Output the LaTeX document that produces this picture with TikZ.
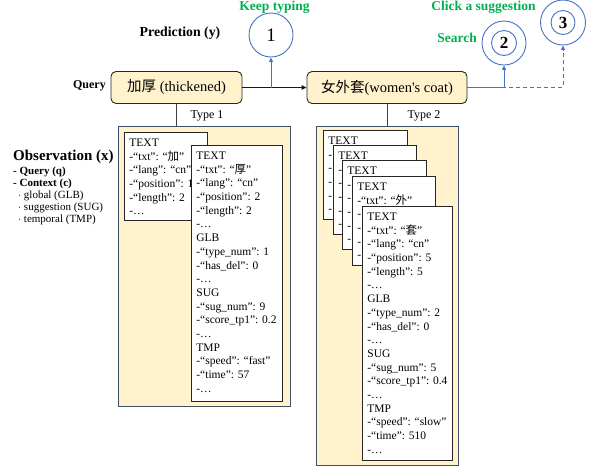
\documentclass[tikz,border=0pt]{standalone}
\usepackage{fontspec}
\setmainfont{Liberation Serif}
\newfontfamily\plainserif{Liberation Serif}
\newfontfamily\cjk{Noto Sans CJK SC}
\usetikzlibrary{arrows.meta}

\definecolor{boxfill}{HTML}{FFF2CC}
\definecolor{panelline}{HTML}{3E4F6A}
\definecolor{linkblue}{HTML}{4472C4}
\definecolor{actgreen}{HTML}{00B050}

\newcommand\fsz[2]{\fontsize{#1}{#2}\selectfont}
% fixed-size block of text lines, top aligned, fixed line pitch
\newcommand\cardlines[3]{\parbox[t][#2pt][t]{#1pt}{\raggedright\fsz{11.5}{13.7}%
  \lineskiplimit=-\maxdimen\lineskip=0pt #3}}

\begin{document}
\begin{tikzpicture}[x=1pt,y=-1pt,
  querybox/.style={draw=black!85, fill=boxfill, rounded corners=5pt, line width=0.9pt,
    minimum height=32, inner sep=0, font=\fsz{14.5}{16}},
  panel/.style={draw=panelline, fill=boxfill, line width=1.1pt, anchor=north west, inner sep=0},
  card/.style={draw=black!85, fill=white, line width=0.8pt, anchor=north west,
    inner xsep=5pt, inner ysep=6.5pt},
  ring/.style={circle, draw=linkblue, line width=0.9pt, inner sep=0},
  act/.style={text=actgreen, inner sep=0, font=\bfseries\fsz{13.5}{15}},
  mainlink/.style={draw=black!90, line width=1.1pt, -{Triangle[length=5pt,width=4.5pt]}},
  bluelink/.style={draw=linkblue, line width=0.9pt, -{Triangle[length=4.5pt,width=4pt]}},
  stem/.style={draw=black!75, line width=0.9pt},
  typelabel/.style={font=\fsz{12}{13}},
  obsline/.style={anchor=west, inner sep=0, font=\fsz{11}{12}},
]
\useasboundingbox (0,0) rectangle (593,472);

% ---- queries ----
\node[anchor=east, inner sep=0, font=\bfseries\fsz{12}{13}] (qlab) at (106,86) {Query};
\node[querybox, minimum width=131] (q1) at (176.5,87.5) {{\cjk 加厚} (thickened)};
\node[querybox, minimum width=160] (q2) at (387,87.5) {{\cjk 女外套}(women{\plainserif '}s coat)};

% ---- predictions ----
\node[font=\bfseries\fsz{13.8}{15}] (plab) at (180,33) {Prediction (y)};
\node[ring, minimum size=44] (k1) at (271,35) {\fsz{19}{19}1};
\node[act] (a1) at (274.5,7) {Keep typing};

\node[ring, minimum size=44] (k2) at (504,43) {};
\node[ring, minimum size=25, font=\bfseries\fsz{17}{17}] (k2i) at (k2.center) {2};
\node[act] (a2) at (457,38) {Search};

\node[ring, minimum size=45] (k3) at (563,22.5) {};
\node[ring, minimum size=24, font=\bfseries\fsz{17}{17}] (k3i) at (k3.center) {3};
\node[act] (a3) at (483.5,7) {Click a suggestion};

% ---- connectors ----
\draw[mainlink] (q1.east) -- (q2.west);
\coordinate (j1) at (k1.south |- q1.east);
\draw[bluelink] (j1) -- (k1.south);
\coordinate (j2) at (k2.south |- q2.east);
\coordinate (j3) at (k3.south |- q2.east);
\draw[bluelink] (q2.east) -- (j2) -- (k2.south);
\draw[bluelink, dash pattern=on 4pt off 3pt] (q2.east) -- (j3) -- (k3.south);

% ---- observation legend ----
\node[anchor=west, inner sep=0, font=\bfseries\fsz{15}{16}] (obs) at (13,157) {Observation (x)};
\node[obsline, font=\bfseries\fsz{11}{12}] (oq) at (13,172) {- Query (q)};
\node[obsline, font=\bfseries\fsz{11}{12}] (oc) at (13,184) {- Context (c)};
\node[obsline] (og) at (18,196) {$\cdot$ global (GLB)};
\node[obsline] (os) at (18,208) {$\cdot$ suggestion (SUG)};
\node[obsline] (ot) at (18,220) {$\cdot$ temporal (TMP)};

% ---- type 1 panel ----
\node[panel, minimum width=172, minimum height=280] (p1) at (118,126) {};
\draw[stem] (q1.south) -- (q1.south |- p1.north);
\node[typelabel] (ty1) at (207,115.5) {Type 1};

\node[card] (t1a) at (124,132) {\cardlines{73}{75}{TEXT\\
-“txt”: “{\cjk 加}”\\
-“lang”: “cn”\\
-“position”: 1\\
-“length”: 2\\
-…}};
\node[card] (t1b) at (191,145) {\cardlines{81}{243}{TEXT\\
-“txt”: “{\cjk 厚}”\\
-“lang”: “cn”\\
-“position”: 2\\
-“length”: 2\\
-…\\
GLB\\
-“type\_num”: 1\\
-“has\_del”: 0\\
-…\\
SUG\\
-“sug\_num”: 9\\
-“score\_tp1”: 0.2\\
-…\\
TMP\\
-“speed”: “fast”\\
-“time”: 57\\
-…}};

% ---- type 2 panel ----
\node[panel, minimum width=142, minimum height=339] (p2) at (316,126) {};
\draw[stem] (q2.south) -- (q2.south |- p2.north);
\node[typelabel] (ty2) at (424,116) {Type 2};

\node[card] (t2a) at (323,130) {\cardlines{74}{76}{TEXT\\ -\\ -\\ -\\ -\\ -}};
\node[card] (t2b) at (333,145) {\cardlines{73}{76}{TEXT\\ -\\ -\\ -\\ -\\ -}};
\node[card] (t2c) at (342,160) {\cardlines{74}{76}{TEXT\\ -\\ -\\ -\\ -\\ -}};
\node[card] (t2d) at (352,176) {\cardlines{73}{76}{TEXT\\
-“txt”: “{\cjk 外}”\\ -\\ -\\ -\\ -}};
\node[card] (t2e) at (362,206) {\cardlines{80}{241}{TEXT\\
-“txt”: “{\cjk 套}”\\
-“lang”: “cn”\\
-“position”: 5\\
-“length”: 5\\
-…\\
GLB\\
-“type\_num”: 2\\
-“has\_del”: 0\\
-…\\
SUG\\
-“sug\_num”: 5\\
-“score\_tp1”: 0.4\\
-…\\
TMP\\
-“speed”: “slow”\\
-“time”: 510\\
-…}};
\end{tikzpicture}
\end{document}
